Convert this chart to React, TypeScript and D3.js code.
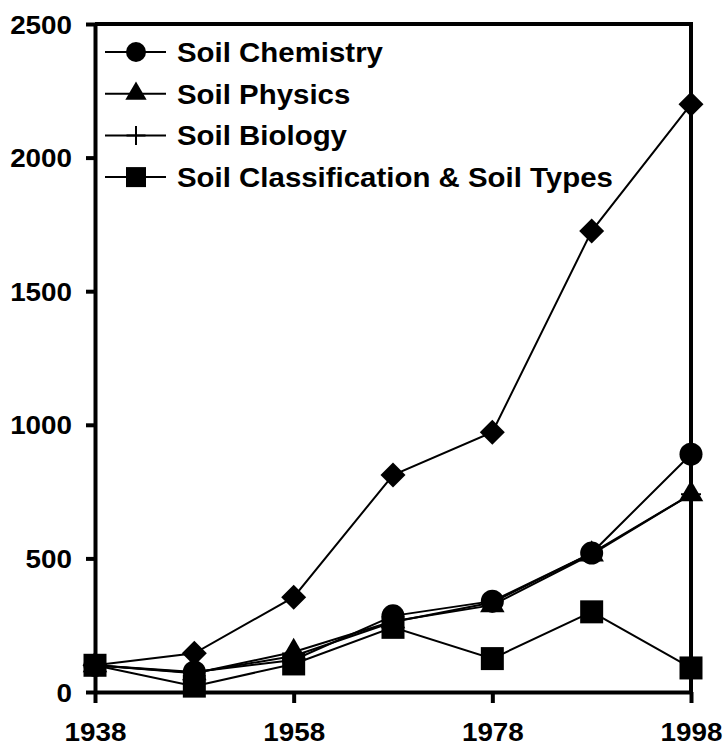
import { useEffect, useRef } from 'react';
import * as d3 from 'd3';

const YEARS = [1938, 1948, 1958, 1968, 1978, 1988, 1998];
const TOTAL = [100, 145, 355, 812, 972, 1725, 2200];
const CHEMISTRY = [100, 75, 120, 285, 340, 520, 890];
const PHYSICS = [100, 70, 150, 265, 325, 515, 740];
const BIOLOGY = [100, 72, 135, 262, 335, 520, 740];
const CLASSIFICATION = [100, 22, 105, 242, 125, 300, 90];

const X_TICKS = [1938, 1958, 1978, 1998];
const Y_TICKS = [0, 500, 1000, 1500, 2000, 2500];

const LEGEND = [
  { label: 'Soil Chemistry', marker: 'circle' },
  { label: 'Soil Physics', marker: 'triangle' },
  { label: 'Soil Biology', marker: 'plus' },
  { label: 'Soil Classification & Soil Types', marker: 'square' },
];

const FONT = 'Arial, "Liberation Sans", sans-serif';
const STRETCH = 1.07; // the original text is a bit wide

function markerPath(kind: string, scale: number) {
  switch (kind) {
    case 'circle':
      return d3.symbol(d3.symbolCircle, Math.PI * (11.5 * scale) ** 2)() || '';
    case 'triangle':
      return d3.symbol(d3.symbolTriangle, 260 * scale * scale)() || '';
    case 'square':
      return d3.symbol(d3.symbolSquare, (23 * scale) ** 2)() || '';
    case 'diamond':
      return d3.symbol(d3.symbolSquare, 312 * scale * scale)() || '';
    case 'plus': {
      const h = 10 * scale;
      return `M${-h},0H${h}M0,${-h}V${h}`;
    }
  }
  return '';
}

export default function App() {
  const svgRef = useRef<SVGSVGElement>(null);

  useEffect(() => {
    if (!svgRef.current) return;
    const svg = d3.select(svgRef.current);
    svg.selectAll('*').remove();

    const x = d3.scaleLinear().domain([1938, 1998]).range([95, 691]);
    const y = d3.scaleLinear().domain([0, 2500]).range([692, 24]);

    const series = [
      { values: TOTAL, marker: 'diamond' },
      { values: BIOLOGY, marker: 'plus' },
      { values: PHYSICS, marker: 'triangle' },
      { values: CHEMISTRY, marker: 'circle' },
      { values: CLASSIFICATION, marker: 'square' },
    ];

    const line = d3.line<number>()
      .x((_, i) => x(YEARS[i]))
      .y((d) => y(d));

    // frame (top + right)
    svg.append('path')
      .attr('d', `M${x(1938)},${y(2500)}H${x(1998)}V${y(0)}`)
      .attr('fill', 'none')
      .attr('stroke', '#000')
      .attr('stroke-width', 4);

    const yAxis = svg.append('g').attr('transform', `translate(${x(1938)},0)`)
      .call(d3.axisLeft(y).tickValues(Y_TICKS).tickFormat(d3.format('d')).tickSize(9).tickSizeOuter(0));
    const xAxis = svg.append('g').attr('transform', `translate(0,${y(0)})`)
      .call(d3.axisBottom(x).tickValues(X_TICKS).tickFormat(d3.format('d')).tickSize(11).tickSizeOuter(0));

    [yAxis, xAxis].forEach((ax) => {
      ax.select('.domain').attr('stroke', '#000').attr('stroke-width', 4);
      ax.selectAll('.tick line').attr('stroke', '#000').attr('stroke-width', 4);
      ax.selectAll('.tick text')
        .attr('fill', '#000')
        .attr('font-family', FONT)
        .attr('font-weight', 'bold')
        .attr('font-size', 26)
        .attr('x', 0)
        .attr('y', 0);
    });
    yAxis.selectAll('.tick text')
      .attr('dy', '0.35em')
      .attr('transform', `translate(-23,0) scale(${STRETCH},1)`);
    xAxis.selectAll('.tick text')
      .attr('dy', 0)
      .attr('transform', `translate(0,49) scale(${STRETCH},1)`);

    series.forEach((s) => {
      svg.append('path')
        .attr('d', line(s.values) || '')
        .attr('fill', 'none')
        .attr('stroke', '#000')
        .attr('stroke-width', 2);
    });

    series.forEach((s) => {
      svg.append('g')
        .selectAll('path')
        .data(s.values)
        .join('path')
        .attr('transform', (d, i) => `translate(${x(YEARS[i])},${y(d)})${s.marker === 'diamond' ? ' rotate(45)' : ''}`)
        .attr('d', markerPath(s.marker, 1))
        .attr('fill', s.marker === 'plus' ? 'none' : '#000')
        .attr('stroke', s.marker === 'plus' ? '#000' : 'none')
        .attr('stroke-width', 2);
    });

    // legend
    const legend = svg.append('g');
    LEGEND.forEach((item, i) => {
      const cy = 52 + i * 41.7;
      const g = legend.append('g').attr('transform', `translate(0,${cy})`);
      g.append('line')
        .attr('x1', 105).attr('x2', 166)
        .attr('y1', 0).attr('y2', 0)
        .attr('stroke', '#000').attr('stroke-width', 2);
      g.append('path')
        .attr('transform', 'translate(136,0)')
        .attr('d', markerPath(item.marker, item.marker === 'plus' ? 0.95 : 0.87))
        .attr('fill', item.marker === 'plus' ? 'none' : '#000')
        .attr('stroke', item.marker === 'plus' ? '#000' : 'none')
        .attr('stroke-width', 2);
      g.append('text')
        .attr('transform', `translate(177,10) scale(${STRETCH},1)`)
        .attr('font-family', FONT)
        .attr('font-weight', 'bold')
        .attr('font-size', 27.5)
        .attr('fill', '#000')
        .text(item.label);
    });
  }, []);

  return (
    <svg
      ref={svgRef}
      width={723}
      height={746}
      viewBox="0 0 723 746"
      style={{ position: 'absolute', left: 0, top: 0, background: '#fff' }}
    />
  );
}
